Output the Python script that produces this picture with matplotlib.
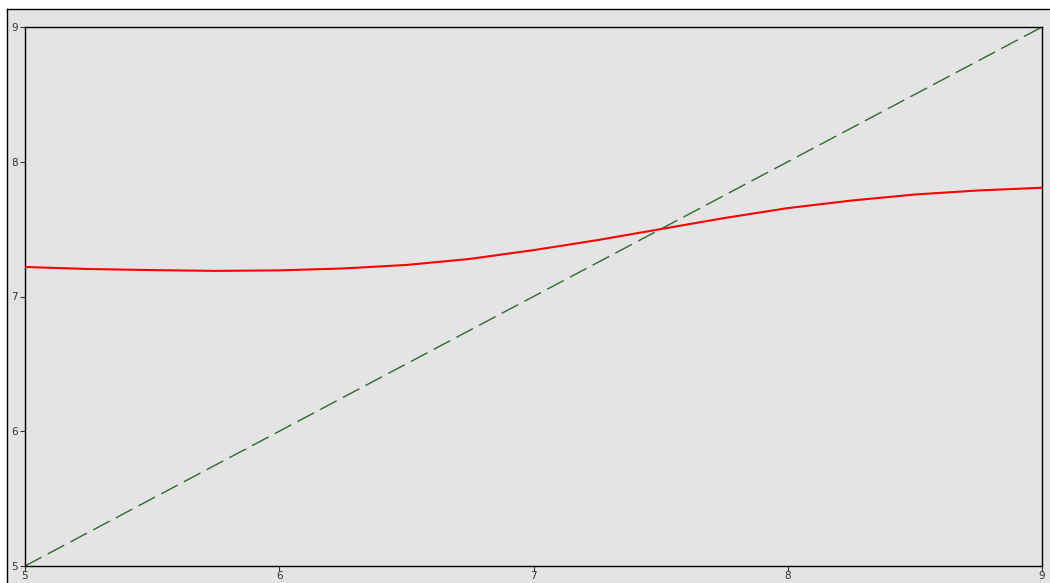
import matplotlib
matplotlib.use("Agg")
import matplotlib.pyplot as plt
from matplotlib.patches import Rectangle

# Fitted curve sampled along x
fit_x = [5.0, 5.25, 5.5, 5.75, 6.0, 6.25, 6.5, 6.75, 7.0, 7.25, 7.5,
         7.75, 8.0, 8.25, 8.5, 8.75, 9.0]
fit_y = [7.219, 7.204, 7.196, 7.190, 7.194, 7.208, 7.234, 7.279, 7.344,
         7.418, 7.500, 7.582, 7.656, 7.712, 7.757, 7.787, 7.807]

# Identity reference line
ref_x = [5, 9]
ref_y = [5, 9]

x_ticks = [5, 6, 7, 8, 9]
y_ticks = [5, 6, 7, 8, 9]

W, H = 1050, 583
bg = "#e4e4e4"

fig = plt.figure(figsize=(W / 100, H / 100), dpi=100, facecolor="white")

# Gray panel with a frame on its top and left edges
fig.add_artist(Rectangle((7 / W, 0), 1, 1 - 9 / H, transform=fig.transFigure,
                         facecolor=bg, edgecolor="none", zorder=0))
fig.add_artist(plt.Line2D([7 / W, 1], [1 - 9 / H, 1 - 9 / H],
                          transform=fig.transFigure, color="black", lw=1.0))
fig.add_artist(plt.Line2D([7 / W, 7 / W], [0, 1 - 9 / H],
                          transform=fig.transFigure, color="black", lw=1.0))

left, right, top, bottom = 25, 1042, 27, 566
ax = fig.add_axes([left / W, 1 - bottom / H, (right - left) / W, (bottom - top) / H])
ax.set_facecolor(bg)

ax.plot(ref_x, ref_y, color="#2f6a2f", lw=1.0, linestyle=(0, (13.5, 5)), zorder=2)
ax.plot(fit_x, fit_y, color="#ff0000", lw=1.5, zorder=3)

ax.set_xlim(5, 9)
ax.set_ylim(5, 9)
ax.set_xticks(x_ticks)
ax.set_yticks(y_ticks)
ax.set_xticklabels([str(v) for v in x_ticks])
ax.set_yticklabels([str(v) for v in y_ticks])

for s in ax.spines.values():
    s.set_color("black")
    s.set_linewidth(1.0)

ax.tick_params(axis="both", direction="out", length=3.4, width=0.8,
               colors="#333333", labelsize=7.5)
ax.tick_params(axis="x", pad=0.5)
ax.tick_params(axis="y", pad=1.5)

fig.savefig("out.png", dpi=100, facecolor="white")
